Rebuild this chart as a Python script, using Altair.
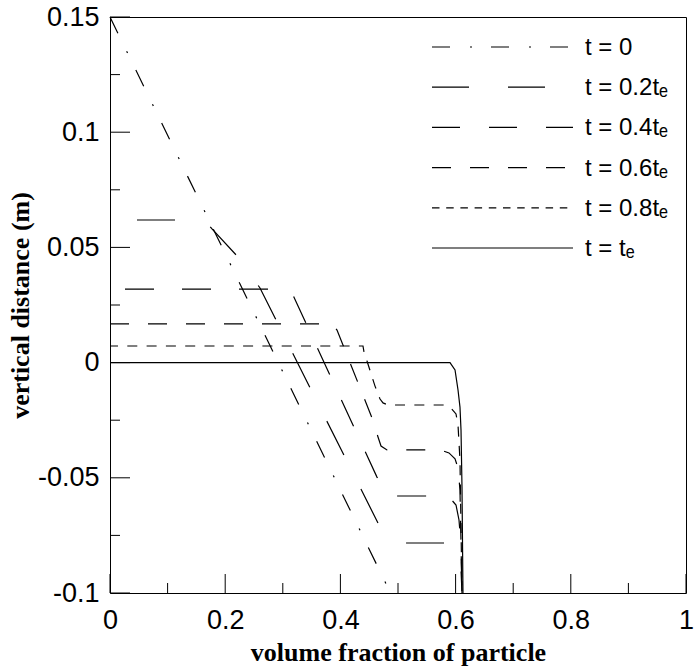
import altair as alt
import pandas as pd

# ---------------- data ----------------
series_names = ["t = 0", "t = 0.2tₑ", "t = 0.4tₑ", "t = 0.6tₑ", "t = 0.8tₑ", "t = tₑ"]

t0_x = [0.0, 0.487]
t0_y = [0.15, -0.1]

t02_x = [0.0, 0.1615, 0.1701, 0.1771, 0.2205, 0.2604, 0.4688, 0.4809, 0.4948, 0.5868,
         0.5990, 0.6059, 0.6094, 0.6111]
t02_y = [0.0619, 0.0619, 0.0602, 0.0580, 0.0463, 0.0324, -0.0714, -0.0761, -0.0783, -0.0783,
         -0.0796, -0.0835, -0.0900, -0.1]

t04_x = [0.0, 0.2917, 0.3073, 0.3177, 0.4635, 0.4740, 0.4861, 0.4965, 0.5729, 0.5903,
         0.6007, 0.6059, 0.6094, 0.6111]
t04_y = [0.0319, 0.0319, 0.0311, 0.0293, -0.0497, -0.0544, -0.0570, -0.0579, -0.0579, -0.0588,
         -0.0618, -0.0683, -0.0792, -0.1]

t06_x = [0.0, 0.3802, 0.3889, 0.3941, 0.4549, 0.4653, 0.4705, 0.4809, 0.5729, 0.5885,
         0.5990, 0.6042, 0.6076, 0.6111]
t06_y = [0.0168, 0.0168, 0.0159, 0.0141, -0.0240, -0.0323, -0.0362, -0.0379, -0.0379, -0.0392,
         -0.0418, -0.0457, -0.0553, -0.1]

t08_x = [0.0, 0.4392, 0.4410, 0.4462, 0.4601, 0.4688, 0.4740, 0.4826, 0.5799, 0.5920,
         0.6007, 0.6042, 0.6076, 0.6111]
t08_y = [0.0072, 0.0072, 0.0046, 0.0007, -0.0102, -0.0158, -0.0175, -0.0184, -0.0184, -0.0197,
         -0.0223, -0.0271, -0.0423, -0.1]

te_x = [0.0, 0.5903, 0.5990, 0.6042, 0.6076, 0.6094, 0.6111, 0.6128]
te_y = [0.0, 0.0, -0.0032, -0.0119, -0.0193, -0.0293, -0.0540, -0.1]

x_major = [0.0, 0.2, 0.4, 0.6, 0.8, 1.0]
x_minor = [0.1, 0.3, 0.5, 0.7, 0.9]
y_major = [-0.1, -0.05, 0.0, 0.05, 0.1, 0.15]
y_minor = [-0.075, -0.025, 0.025, 0.075, 0.125]

# ---------------- styles ----------------
plot_dashes = [[18, 20, 2, 19], [38, 38], [29, 28], [19, 19], [10, 9.3], None]
plot_offsets = [0, 49, 42, 0, 2, 0]
legend_dashes = [[18, 20, 2, 19], [37, 39], [28, 29], [19, 19], [7.5, 6.7], [1, 0]]
MAJOR_LEN, MINOR_LEN = 19, 10   # tick lengths in pixels

all_x = [t0_x, t02_x, t04_x, t06_x, t08_x, te_x]
all_y = [t0_y, t02_y, t04_y, t06_y, t08_y, te_y]

rows = []
for name, xs_, ys_ in zip(series_names, all_x, all_y):
    for i, (a, b) in enumerate(zip(xs_, ys_)):
        rows.append({"series": name, "i": i, "x": a, "y": b})
df = pd.DataFrame(rows)

W, H = 576, 576
XMIN, XMAX, YMIN, YMAX = 0.0, 1.0, -0.1, 0.15
xscale = alt.Scale(domain=[XMIN, XMAX], nice=False, zero=False)
yscale = alt.Scale(domain=[YMIN, YMAX], nice=False, zero=False)

xaxis = alt.Axis(values=x_major, ticks=False, tickSize=0, domain=False, grid=False,
                 labelFont="Liberation Sans", labelFontSize=27, labelColor="black",
                 labelPadding=14, labelFlush=False, labelExpr="'' + datum.value",
                 title="volume fraction of particle", titleFont="Liberation Serif",
                 titleFontWeight="bold", titleFontSize=26, titleColor="black",
                 titleX=288, titleY=67, titleAlign="center", titleBaseline="alphabetic")
yaxis = alt.Axis(values=y_major, ticks=False, tickSize=0, domain=False, grid=False,
                 labelFont="Liberation Sans", labelFontSize=27, labelColor="black",
                 labelPadding=11, labelFlush=False, labelExpr="'' + datum.value",
                 title="vertical distance (m)", titleFont="Liberation Serif",
                 titleFontWeight="bold", titleFontSize=26, titleColor="black",
                 titleX=-82, titleY=288, titleAngle=270, titleAlign="center",
                 titleBaseline="alphabetic")

X = alt.X("x:Q", scale=xscale, axis=xaxis)
Y = alt.Y("y:Q", scale=yscale, axis=yaxis)

layers = []
for name, dash, off in zip(series_names, plot_dashes, plot_offsets):
    kw = dict(color="black", strokeWidth=1.2)
    if dash is not None:
        kw["strokeDash"] = dash
        kw["strokeDashOffset"] = off
    layers.append(
        alt.Chart(df).transform_filter(alt.datum.series == name)
        .mark_line(**kw)
        .encode(x=X, y=Y, order="i:Q")
    )

# inward ticks: one layer per axis, lengths converted from pixels to data units
ydu = (YMAX - YMIN) / H
xdu = (XMAX - XMIN) / W
xt_df = pd.DataFrame({
    "x": x_major + x_minor,
    "y": [YMIN] * (len(x_major) + len(x_minor)),
    "y2": [YMIN + MAJOR_LEN * ydu] * len(x_major) + [YMIN + MINOR_LEN * ydu] * len(x_minor),
})
yt_df = pd.DataFrame({
    "y": y_major + y_minor,
    "x": [XMIN] * (len(y_major) + len(y_minor)),
    "x2": [XMIN + (MAJOR_LEN + 1) * xdu] * len(y_major) + [XMIN + MINOR_LEN * xdu] * len(y_minor),
})

xticks = alt.Chart(xt_df).mark_rule(color="black", strokeWidth=1).encode(x=X, y=Y, y2="y2:Q")
yticks = alt.Chart(yt_df).mark_rule(color="black", strokeWidth=1).encode(y=Y, x=X, x2="x2:Q")

main = alt.layer(*layers, xticks, yticks)

# manual legend
df_leg = pd.DataFrame({"series": series_names, "row": list(range(len(series_names)))})
rowscale = alt.Scale(domain=[0, 5], range=[30, 231], nice=False, zero=False)
RY = alt.Y("row:Q", scale=rowscale, axis=None)
leg_rules = alt.Chart(df_leg).mark_rule(color="black", strokeWidth=1.2).encode(
    x=alt.value(322), x2=alt.value(463), y=RY,
    strokeDash=alt.StrokeDash("series:N", scale=alt.Scale(domain=series_names, range=legend_dashes),
                              legend=None))
leg_text = alt.Chart(df_leg).mark_text(align="left", baseline="middle", font="Liberation Sans",
                                       fontSize=24, color="black", dy=1).encode(
    x=alt.value(475), y=RY, text="series:N")
legend = alt.layer(leg_rules, leg_text)

chart = alt.layer(main, legend).resolve_scale(y="independent").properties(
    width=W, height=H,
    padding={"left": 110, "top": 17, "right": 9, "bottom": 73},
    autosize=alt.AutoSizeParams(type="none"),
    background="white",
).configure_view(stroke="black", strokeWidth=1)

chart.save("out.html", embed_options={"renderer": "svg", "actions": False})
